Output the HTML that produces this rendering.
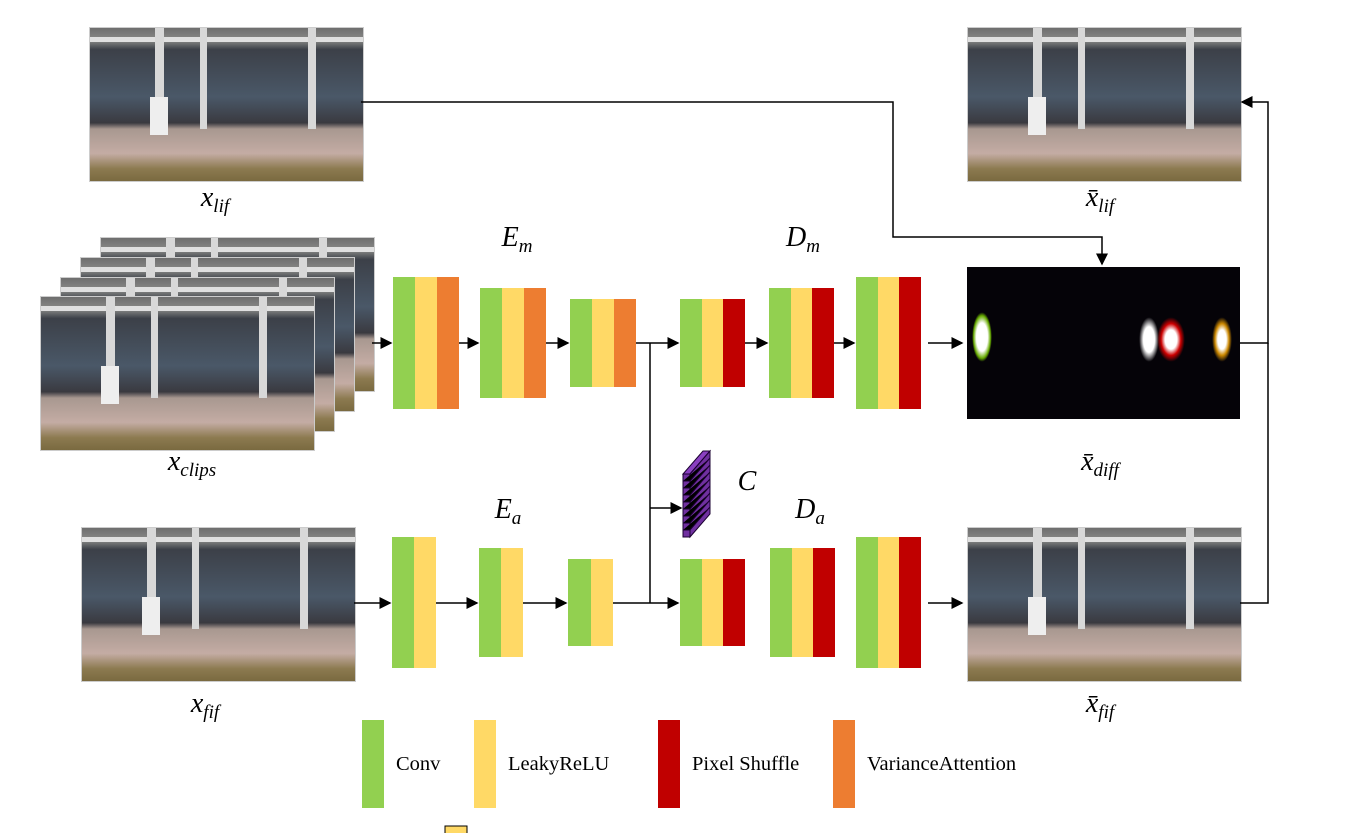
<!DOCTYPE html>
<html><head><meta charset="utf-8"><style>
body{margin:0;width:1368px;height:833px;background:#fff;position:relative;overflow:hidden;font-family:"Liberation Serif",serif}
.abs{position:absolute}
.scene{position:absolute;width:273px;height:153px;overflow:hidden;
background:linear-gradient(to bottom,#6e6e6e 0%,#8a8a88 8%,#3c4048 14%,#4a5868 45%,#3a3a40 62%,#a89890 66%,#c4aca4 82%,#8c7a50 92%,#7a6a40 100%);border:1px solid #ccc}
.scene .p{position:absolute;top:0;height:66%;background:#d8d8d8}
.scene .b{position:absolute;top:6%;left:0;right:0;height:5px;background:#e0e0e0}
.blk{position:absolute;display:flex}
.blk div{flex:1}
.g{background:#92d050}.y{background:#ffd966}.o{background:#ed7d31}.r{background:#c00000}
.lbl{position:absolute;font-family:"Liberation Serif",serif;font-style:italic;font-size:28px;color:#000;transform:translateX(-50%)}
.lbl sub{font-size:19px;vertical-align:-6px}
.leg{position:absolute;font-size:20.5px;color:#000}
</style></head><body>
<div id="scenes"></div>
<div class="abs" style="left:967px;top:267px;width:273px;height:152px;background:#050308">
<div class="abs" style="left:5px;top:45px;width:20px;height:50px;background:radial-gradient(#fff 40%,#6a0 60%,transparent 70%)"></div>
<div class="abs" style="left:172px;top:50px;width:20px;height:45px;background:radial-gradient(#fff 40%,transparent 70%)"></div>
<div class="abs" style="left:190px;top:50px;width:28px;height:45px;background:radial-gradient(#fff 30%,#c00 50%,transparent 70%)"></div>
<div class="abs" style="left:245px;top:50px;width:20px;height:45px;background:radial-gradient(#fff 30%,#c80 50%,transparent 70%)"></div>
</div>

<div class="blk" style="left:393px;top:277px;width:66px;height:132px"><div class="g"></div><div class="y"></div><div class="o"></div></div>
<div class="blk" style="left:480px;top:288px;width:66px;height:110px"><div class="g"></div><div class="y"></div><div class="o"></div></div>
<div class="blk" style="left:570px;top:299px;width:66px;height:88px"><div class="g"></div><div class="y"></div><div class="o"></div></div>
<div class="blk" style="left:680px;top:299px;width:65px;height:88px"><div class="g"></div><div class="y"></div><div class="r"></div></div>
<div class="blk" style="left:769px;top:288px;width:65px;height:110px"><div class="g"></div><div class="y"></div><div class="r"></div></div>
<div class="blk" style="left:856px;top:277px;width:65px;height:132px"><div class="g"></div><div class="y"></div><div class="r"></div></div>
<div class="blk" style="left:392px;top:537px;width:44px;height:131px"><div class="g"></div><div class="y"></div></div>
<div class="blk" style="left:479px;top:548px;width:44px;height:109px"><div class="g"></div><div class="y"></div></div>
<div class="blk" style="left:568px;top:559px;width:45px;height:87px"><div class="g"></div><div class="y"></div></div>
<div class="blk" style="left:680px;top:559px;width:65px;height:87px"><div class="g"></div><div class="y"></div><div class="r"></div></div>
<div class="blk" style="left:770px;top:548px;width:65px;height:109px"><div class="g"></div><div class="y"></div><div class="r"></div></div>
<div class="blk" style="left:856px;top:537px;width:65px;height:131px"><div class="g"></div><div class="y"></div><div class="r"></div></div>

<svg class="abs" style="left:0;top:0" width="1368" height="833">
<defs><marker id="a" markerWidth="8" markerHeight="8" refX="7" refY="4" orient="auto"><path d="M0,0L8,4L0,8z" fill="#000"/></marker></defs>
<g stroke="#000" stroke-width="1.5" fill="none">
<path d="M372,343H391" marker-end="url(#a)"/><path d="M459,343H478" marker-end="url(#a)"/><path d="M546,343H568" marker-end="url(#a)"/>
<path d="M636,343H678" marker-end="url(#a)"/><path d="M745,343H767" marker-end="url(#a)"/><path d="M834,343H854" marker-end="url(#a)"/>
<path d="M928,343H962" marker-end="url(#a)"/>
<path d="M650,343V603"/><path d="M650,508H681" marker-end="url(#a)"/>
<path d="M354,603H390" marker-end="url(#a)"/><path d="M436,603H477" marker-end="url(#a)"/><path d="M523,603H566" marker-end="url(#a)"/>
<path d="M613,603H678" marker-end="url(#a)"/><path d="M928,603H962" marker-end="url(#a)"/>
<path d="M361,102H893V237H1102V264" marker-end="url(#a)"/>
<path d="M1240,343H1268V102H1242" marker-end="url(#a)"/>
<path d="M1240,603H1268V343"/>
</g>
<g>
<polygon points="683,474 690,474 710,451 703,451" fill="#8a40c0" stroke="#1a0030"/>
<polygon points="690,474 710,451 710,514 690,537" fill="#7030a0" stroke="#1a0030"/>
<rect x="683" y="474" width="7" height="63" fill="#7030a0" stroke="#1a0030"/>
<g stroke="#1a0030" stroke-width="1" id="cl"></g>
</g>
<rect x="445" y="826" width="22" height="12" fill="#ffd966" stroke="#000"/>
</svg>

<div class="lbl" style="left:215px;top:182px">x<sub>lif</sub></div>
<div class="lbl" style="left:1100px;top:182px">x̄<sub>lif</sub></div>
<div class="lbl" style="left:192px;top:446px">x<sub>clips</sub></div>
<div class="lbl" style="left:1100px;top:446px">x̄<sub>diff</sub></div>
<div class="lbl" style="left:205px;top:688px">x<sub>fif</sub></div>
<div class="lbl" style="left:1100px;top:688px">x̄<sub>fif</sub></div>
<div class="lbl" style="left:517px;top:222px">E<sub>m</sub></div>
<div class="lbl" style="left:803px;top:222px">D<sub>m</sub></div>
<div class="lbl" style="left:508px;top:494px">E<sub>a</sub></div>
<div class="lbl" style="left:810px;top:494px">D<sub>a</sub></div>
<div class="lbl" style="left:747px;top:466px">C</div>

<div class="abs g" style="left:362px;top:720px;width:22px;height:88px"></div>
<div class="leg" style="left:396px;top:753px">Conv</div>
<div class="abs y" style="left:474px;top:720px;width:22px;height:88px"></div>
<div class="leg" style="left:508px;top:753px">LeakyReLU</div>
<div class="abs r" style="left:658px;top:720px;width:22px;height:88px"></div>
<div class="leg" style="left:692px;top:753px">Pixel Shuffle</div>
<div class="abs o" style="left:833px;top:720px;width:22px;height:88px"></div>
<div class="leg" style="left:867px;top:753px">VarianceAttention</div>

<script>
var cl=document.getElementById('cl');
for(var i=1;i<9;i++){var y=474+i*7;
var l=document.createElementNS('http://www.w3.org/2000/svg','path');
l.setAttribute('d','M683,'+y+'H690L710,'+(y-23));cl.appendChild(l);}
var scenes=[[100,237,'clip-frame-4'],[80,257,'clip-frame-3'],[60,277,'clip-frame-2'],[40,296,'clip-frame-1'],
[89,27,'input-lif-image'],[967,27,'output-lif-image'],[81,527,'input-fif-image'],[967,527,'output-fif-image']];
var root=document.getElementById('scenes');
scenes.forEach(function(s){var d=document.createElement('div');d.className='scene';
d.style.left=s[0]+'px';d.style.top=s[1]+'px';


d.innerHTML='<div class="b"></div><div class="p" style="left:65px;width:9px"></div><div class="p" style="left:110px;width:7px"></div><div class="p" style="left:218px;width:8px"></div><div class="p" style="left:60px;top:45%;height:25%;width:18px;background:#eee"></div>';
root.appendChild(d);});
</script>
</body></html>
